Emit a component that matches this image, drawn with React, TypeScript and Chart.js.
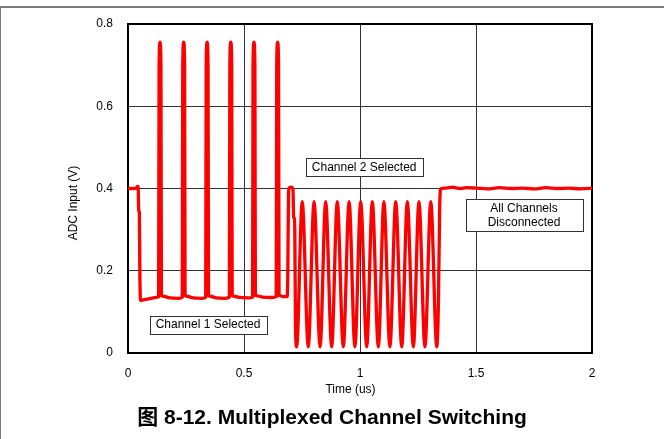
import { useEffect, useRef } from 'react';
import { Chart, registerables } from 'chart.js';

Chart.register(...registerables);

const FONT = "'Liberation Sans', Arial, 'Noto Sans CJK SC', sans-serif";

// X axis (time, us) and Y axis (V) tick values
const xTicks = [0, 0.5, 1, 1.5, 2];
const yTicks = [0, 0.2, 0.4, 0.6, 0.8];

// Channel 1 selected: initial level, drop, and six charge spikes
const ch1Time = [
  0, 0.02, 0.036, 0.04, 0.044, 0.046, 0.049, 0.051, 0.054, 0.07, 0.1, 0.128, 0.132,
  0.134, 0.138, 0.142, 0.144, 0.152, 0.18, 0.22, 0.234,
  0.236, 0.24, 0.244, 0.246, 0.254, 0.28, 0.32, 0.335,
  0.337, 0.341, 0.345, 0.347, 0.355, 0.38, 0.42, 0.437,
  0.439, 0.443, 0.447, 0.449, 0.457, 0.48, 0.52, 0.537,
  0.539, 0.543, 0.547, 0.549, 0.557, 0.58, 0.62, 0.639,
  0.641, 0.645, 0.649, 0.651, 0.659, 0.67, 0.686,
];
const ch1Volt = [
  0.4, 0.4, 0.401, 0.405, 0.404, 0.345, 0.343, 0.2, 0.128, 0.13, 0.133, 0.136, 0.137,
  0.7, 0.756, 0.7, 0.14, 0.138, 0.134, 0.133, 0.136,
  0.7, 0.756, 0.7, 0.14, 0.138, 0.134, 0.133, 0.136,
  0.7, 0.756, 0.7, 0.14, 0.138, 0.134, 0.133, 0.136,
  0.7, 0.756, 0.7, 0.14, 0.138, 0.135, 0.134, 0.136,
  0.7, 0.756, 0.7, 0.14, 0.139, 0.136, 0.135, 0.137,
  0.7, 0.756, 0.7, 0.14, 0.139, 0.137, 0.137,
];

// Channel 2 selected: switch-over and ringing
const ch2Time = [
  0.689, 0.692, 0.696, 0.704, 0.711, 0.714, 0.717, 0.719, 0.722, 0.727,
  0.751, 0.777, 0.802, 0.828, 0.852, 0.878, 0.902, 0.928, 0.953, 0.978,
  1.003, 1.029, 1.053, 1.079, 1.103, 1.129, 1.154, 1.18, 1.204, 1.23,
  1.254, 1.28, 1.305, 1.331,
];
const ch2Volt = [
  0.2, 0.39, 0.402, 0.403, 0.399, 0.33, 0.328, 0.3, 0.06, 0.015,
  0.368, 0.015, 0.368, 0.015, 0.368, 0.015, 0.368, 0.015, 0.368, 0.015,
  0.368, 0.015, 0.368, 0.015, 0.368, 0.015, 0.368, 0.015, 0.368, 0.015,
  0.368, 0.015, 0.368, 0.015,
];

// All channels disconnected
const offTime = [
  1.338, 1.344, 1.349, 1.37, 1.4, 1.43, 1.46, 1.5, 1.55, 1.6, 1.65, 1.7, 1.75, 1.8, 1.85, 1.9, 1.95, 2.0,
];
const offVolt = [
  0.12, 0.37, 0.4, 0.401, 0.403, 0.4, 0.402, 0.401, 0.399, 0.402, 0.4, 0.401, 0.399, 0.402, 0.4, 0.401, 0.399, 0.401,
];

// Annotation labels anchored in data coordinates
const notes = [
  { lines: ['Channel 1 Selected'], t: 0.345, v: 0.069 },
  { lines: ['Channel 2 Selected'], t: 1.018, v: 0.452 },
  { lines: ['All Channels', 'Disconnected'], t: 1.707, v: 0.335 },
];

const xTitle = 'Time (us)';
const yTitle = 'ADC Input (V)';
const caption = '图 8-12. Multiplexed Channel Switching';

const allTime = [...ch1Time, ...ch2Time, ...offTime];
const allVolt = [...ch1Volt, ...ch2Volt, ...offVolt];
const points = allTime.map((t, i) => ({ x: t, y: allVolt[i] }));

const decor = {
  id: 'decor',
  beforeDraw(chart: any) {
    const ctx = chart.ctx;
    ctx.save();
    ctx.fillStyle = '#ffffff';
    ctx.fillRect(0, 0, chart.width, chart.height);
    ctx.fillStyle = '#7a7a7a';
    ctx.fillRect(0, 6, chart.width, 2);
    ctx.fillRect(0, 6, 1, chart.height - 6);
    ctx.restore();
  },
  beforeDatasetsDraw(chart: any) {
    const { ctx, chartArea: a } = chart;
    ctx.save();
    ctx.strokeStyle = '#000';
    ctx.lineWidth = 2;
    ctx.strokeRect(a.left, a.top, a.right - a.left, a.bottom - a.top);
    ctx.restore();
  },
  afterDatasetsDraw(chart: any) {
    const { ctx, chartArea: a, scales } = chart;
    ctx.save();
    ctx.font = `12px ${FONT}`;
    ctx.textAlign = 'center';
    ctx.textBaseline = 'middle';
    for (const n of notes) {
      const cx = scales.x.getPixelForValue(n.t);
      const cy = scales.y.getPixelForValue(n.v);
      const w = 117;
      const h = n.lines.length === 1 ? 18 : 32;
      const x0 = Math.round(cx - w / 2) + 0.5;
      const y0 = Math.round(cy - h / 2) + 0.5;
      ctx.fillStyle = '#fff';
      ctx.fillRect(x0, y0, w, h);
      ctx.strokeStyle = '#333';
      ctx.lineWidth = 1;
      ctx.strokeRect(x0, y0, w, h);
      ctx.fillStyle = '#000';
      const lh = 14.6;
      n.lines.forEach((s, i) => {
        ctx.fillText(s, cx, cy + (i - (n.lines.length - 1) / 2) * lh + 0.5);
      });
    }
    // axis titles
    ctx.fillStyle = '#000';
    ctx.fillText(xTitle, (a.left + a.right) / 2 - 9.5, 390);
    ctx.save();
    ctx.translate(74, (a.top + a.bottom) / 2 + 14.5);
    ctx.rotate(-Math.PI / 2);
    ctx.fillText(yTitle, 0, 0);
    ctx.restore();
    // caption
    ctx.font = `bold 21px ${FONT}`;
    ctx.fillText(caption, chart.width / 2, 418);
    ctx.restore();
  },
};

export default function App() {
  const ref = useRef<HTMLCanvasElement>(null);
  useEffect(() => {
    const chart = new Chart(ref.current!, {
      type: 'line',
      data: {
        datasets: [
          {
            data: points,
            borderColor: '#ff0000',
            borderWidth: 3.3,
            pointRadius: 0,
            fill: false,
            cubicInterpolationMode: 'monotone',
          },
        ],
      },
      options: {
        animation: false,
        responsive: false,
        devicePixelRatio: 1,
        layout: { padding: { left: 0, right: 72, top: 24, bottom: 0 } },
        plugins: { legend: { display: false }, tooltip: { enabled: false } },
        scales: {
          x: {
            type: 'linear',
            min: xTicks[0],
            max: xTicks[xTicks.length - 1],
            afterFit: (s: any) => { s.height = 86; },
            afterBuildTicks: (s: any) => { s.ticks = xTicks.map((v) => ({ value: v })); },
            ticks: {
              padding: 13,
              color: '#000',
              font: { family: FONT, size: 12 },
              callback: (v: any) => String(Number(Number(v).toFixed(2))),
            },
            grid: { color: '#333', lineWidth: 1, drawTicks: false },
            border: { display: false },
          },
          y: {
            type: 'linear',
            min: yTicks[0],
            max: yTicks[yTicks.length - 1],
            afterFit: (s: any) => { s.width = 128; },
            afterBuildTicks: (s: any) => { s.ticks = yTicks.map((v) => ({ value: v })); },
            ticks: {
              padding: 15,
              color: '#000',
              font: { family: FONT, size: 12 },
              callback: (v: any) => (Number(v) === 0 ? '0' : Number(v).toFixed(1)),
            },
            grid: { color: '#333', lineWidth: 1, drawTicks: false },
            border: { display: false },
          },
        },
      },
      plugins: [decor],
    });
    return () => chart.destroy();
  }, []);
  return (
    <div style={{ position: 'fixed', left: 0, top: 0, width: 664, height: 439, background: '#fff' }}>
      <canvas ref={ref} width={664} height={439} style={{ display: 'block' }} />
    </div>
  );
}
